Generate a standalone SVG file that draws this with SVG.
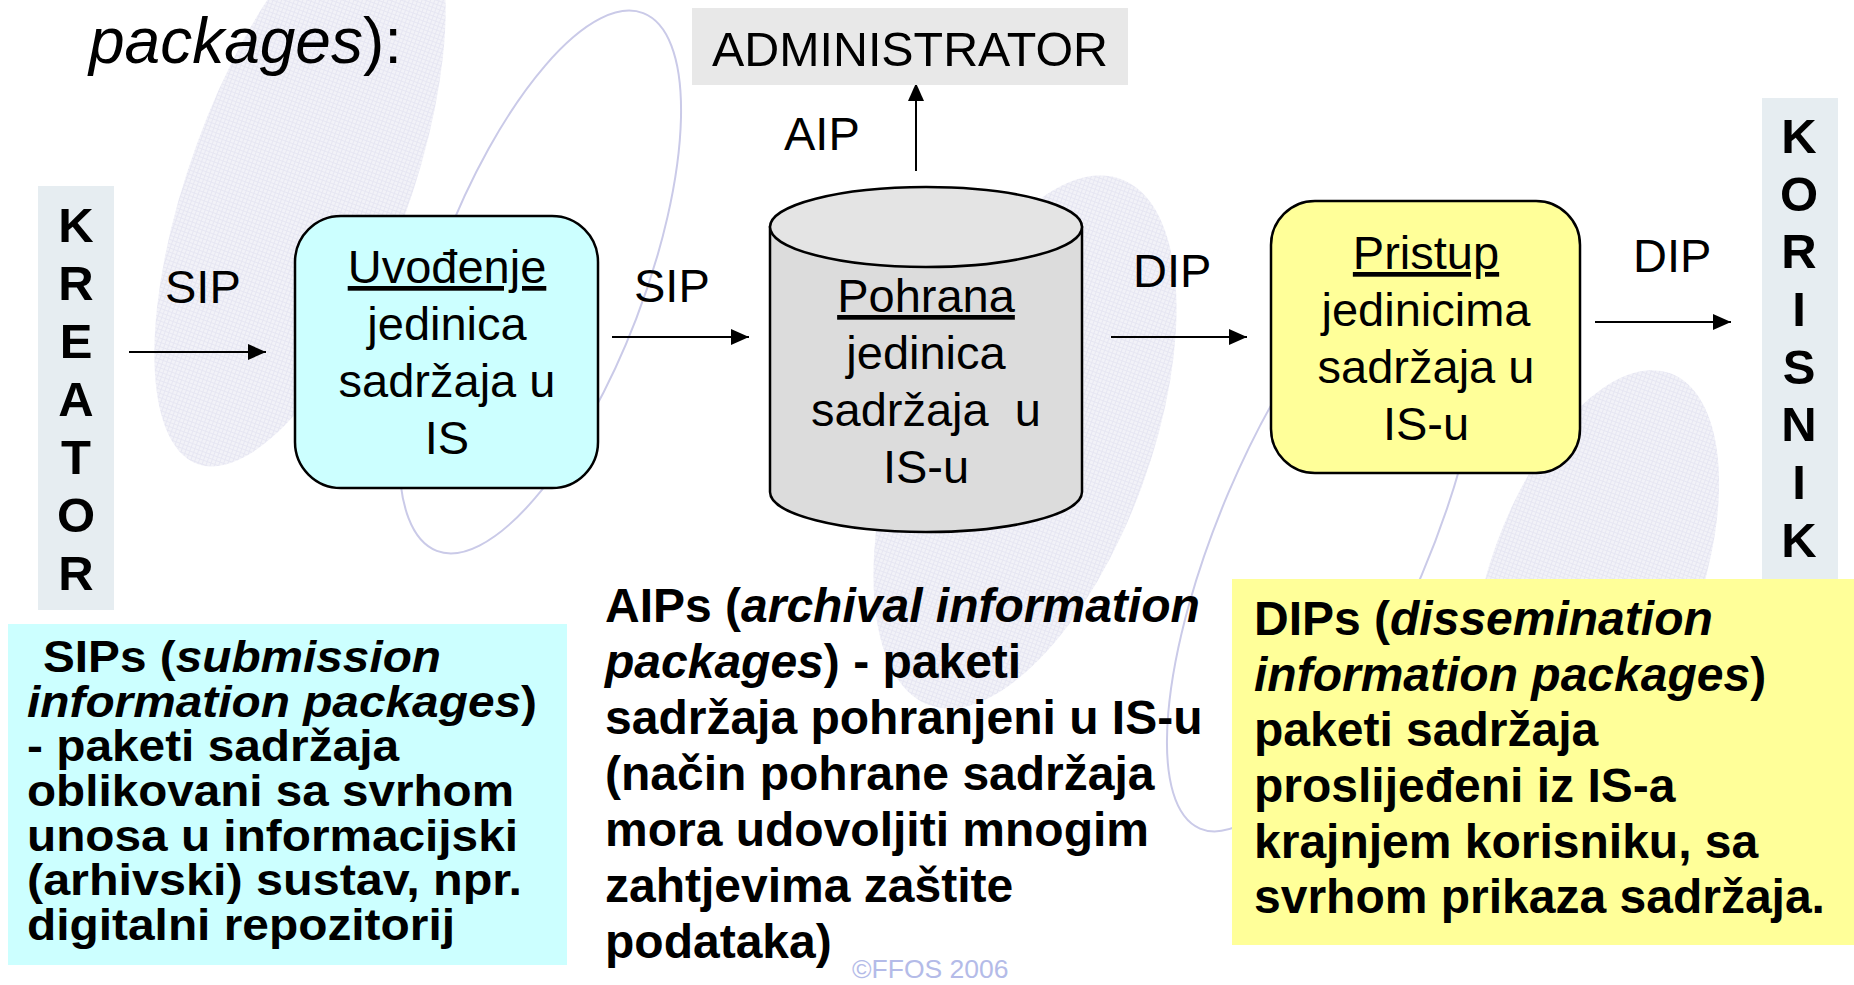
<svg xmlns="http://www.w3.org/2000/svg" width="1854" height="985" viewBox="0 0 1854 985">
<defs>
<style>
.t{font-family:"Liberation Sans",Arial,Helvetica,sans-serif;fill:#000}
.lbl{font-size:47px}
.node{font-size:47px;text-anchor:middle}
.vert{font-size:49px;font-weight:bold;text-anchor:middle}
.para{font-size:48px;font-weight:bold}
.sip{font-size:44px;font-weight:bold}
.it{font-style:italic}
.u{text-decoration:underline}
.conn{stroke:#000;stroke-width:2;fill:none;marker-end:url(#arrow)}
.decofill{fill:url(#hatch)}
.decoline{fill:none;stroke:#cacae8;stroke-width:2}
.box{stroke:#000;stroke-width:2.5}
</style>
<pattern id="hatch" width="4" height="4" patternUnits="userSpaceOnUse">
<rect width="4" height="4" fill="#f2f2f8"/>
<path d="M0,0.5H4M0.5,0V4" stroke="#e6e6f2" stroke-width="1"/>
</pattern>
<marker id="arrow" viewBox="0 0 18 16" refX="18" refY="8" markerWidth="18" markerHeight="16" markerUnits="userSpaceOnUse" orient="auto">
<path d="M0,0 L18,8 L0,16 Z" fill="#000"/>
</marker>
</defs>
<rect width="1854" height="985" fill="#fff"/>

<g id="background">
<ellipse class="decofill" cx="300" cy="182" rx="110" ry="300" transform="rotate(20 300 182)"/>
<ellipse class="decofill" cx="1025" cy="442" rx="125" ry="280" transform="rotate(20 1025 442)"/>
<ellipse class="decofill" cx="1595" cy="580" rx="105" ry="220" transform="rotate(20 1595 580)"/>
<ellipse class="decoline" cx="540" cy="282" rx="103" ry="288" transform="rotate(21 540 282)"/>
<ellipse class="decoline" cx="1325" cy="534" rx="105" ry="320" transform="rotate(23 1325 534)"/>
</g>

<g id="title">
<text class="t" x="89" y="63" font-size="64" textLength="313" lengthAdjust="spacingAndGlyphs"><tspan class="it">packages</tspan>):</text>
</g>

<g id="connectors">
<line class="conn" x1="129" y1="352" x2="266" y2="352"/>
<line class="conn" x1="612" y1="337" x2="749" y2="337"/>
<line class="conn" x1="916" y1="171" x2="916" y2="83"/>
<line class="conn" x1="1111" y1="337" x2="1247" y2="337"/>
<line class="conn" x1="1595" y1="322" x2="1731" y2="322"/>
<text class="t lbl" x="165" y="303">SIP</text>
<text class="t lbl" x="634" y="302">SIP</text>
<text class="t lbl" x="784" y="150">AIP</text>
<text class="t lbl" x="1133" y="287">DIP</text>
<text class="t lbl" x="1633" y="272">DIP</text>
</g>

<g id="kreator">
<rect x="38" y="186" width="76" height="424" fill="#e6edf1"/>
<text class="t vert" x="76" y="242">K</text>
<text class="t vert" x="76" y="300">R</text>
<text class="t vert" x="76" y="358">E</text>
<text class="t vert" x="76" y="416">A</text>
<text class="t vert" x="76" y="474">T</text>
<text class="t vert" x="76" y="532">O</text>
<text class="t vert" x="76" y="590">R</text>
</g>

<g id="uvodjenje">
<rect class="box" x="295" y="216" width="303" height="272" rx="46" ry="46" fill="#ccffff"/>
<text class="t node u" x="447" y="283">Uvođenje</text>
<text class="t node" x="447" y="340">jedinica</text>
<text class="t node" x="447" y="397">sadržaja u</text>
<text class="t node" x="447" y="454">IS</text>
</g>

<g id="administrator">
<rect x="692" y="8" width="436" height="77" fill="#e8e8e8"/>
<text class="t" x="712" y="66" font-size="49" textLength="396" lengthAdjust="spacingAndGlyphs">ADMINISTRATOR</text>
</g>

<g id="pohrana">
<path class="box" d="M770,227 V492 A156,40 0 0 0 1082,492 V227 Z" fill="#dcdcdc"/>
<ellipse class="box" cx="926" cy="227" rx="156" ry="40" fill="#e4e4e4"/>
<text class="t node u" x="926" y="312">Pohrana</text>
<text class="t node" x="926" y="369">jedinica</text>
<text class="t node" x="926" y="426" style="white-space:pre">sadržaja  u</text>
<text class="t node" x="926" y="483">IS-u</text>
</g>

<g id="pristup">
<rect class="box" x="1271" y="201" width="309" height="272" rx="44" ry="44" fill="#ffff99"/>
<text class="t node u" x="1426" y="269">Pristup</text>
<text class="t node" x="1426" y="326">jedinicima</text>
<text class="t node" x="1426" y="383">sadržaja u</text>
<text class="t node" x="1426" y="440">IS-u</text>
</g>

<g id="korisnik">
<rect x="1762" y="98" width="76" height="490" fill="#e6edf1"/>
<text class="t vert" x="1799" y="153">K</text>
<text class="t vert" x="1799" y="211">O</text>
<text class="t vert" x="1799" y="268">R</text>
<text class="t vert" x="1799" y="326">I</text>
<text class="t vert" x="1799" y="384">S</text>
<text class="t vert" x="1799" y="441">N</text>
<text class="t vert" x="1799" y="499">I</text>
<text class="t vert" x="1799" y="557">K</text>
</g>

<g id="sips-note">
<rect x="8" y="624" width="559" height="341" fill="#ccffff"/>
<text class="t sip" x="43" y="672" textLength="398" lengthAdjust="spacingAndGlyphs">SIPs (<tspan class="it">submission</tspan></text>
<text class="t sip" x="27" y="717" textLength="510" lengthAdjust="spacingAndGlyphs"><tspan class="it">information packages</tspan>)</text>
<text class="t sip" x="27" y="761" textLength="372" lengthAdjust="spacingAndGlyphs">- paketi sadržaja</text>
<text class="t sip" x="27" y="806" textLength="487" lengthAdjust="spacingAndGlyphs">oblikovani sa svrhom</text>
<text class="t sip" x="27" y="851" textLength="491" lengthAdjust="spacingAndGlyphs">unosa u informacijski</text>
<text class="t sip" x="27" y="895" textLength="495" lengthAdjust="spacingAndGlyphs">(arhivski) sustav, npr.</text>
<text class="t sip" x="27" y="940" textLength="428" lengthAdjust="spacingAndGlyphs">digitalni repozitorij</text>
</g>

<g id="aips-note">
<text class="t para" x="605" y="622" font-size="47.5">AIPs (<tspan class="it">archival information</tspan></text>
<text class="t para" x="605" y="678" font-size="47.5"><tspan class="it">packages</tspan>) - paketi</text>
<text class="t para" x="605" y="734" font-size="47.5">sadržaja pohranjeni u IS-u</text>
<text class="t para" x="605" y="790" font-size="47.5">(način pohrane sadržaja</text>
<text class="t para" x="605" y="846" font-size="47.5">mora udovoljiti mnogim</text>
<text class="t para" x="605" y="902" font-size="47.5">zahtjevima zaštite</text>
<text class="t para" x="605" y="958" font-size="47.5">podataka)</text>
</g>

<g id="dips-note">
<rect x="1232" y="579" width="622" height="366" fill="#ffff99"/>
<text class="t para" x="1254" y="635">DIPs (<tspan class="it">dissemination</tspan></text>
<text class="t para" x="1254" y="691"><tspan class="it">information packages</tspan>)</text>
<text class="t para" x="1254" y="746">paketi sadržaja</text>
<text class="t para" x="1254" y="802">proslijeđeni iz IS-a</text>
<text class="t para" x="1254" y="858">krajnjem korisniku, sa</text>
<text class="t para" x="1254" y="913">svrhom prikaza sadržaja.</text>
</g>

<g id="footer">
<text class="t" x="852" y="978" font-size="26.5" style="fill:#b4bbe8">©FFOS 2006</text>
</g>
</svg>
